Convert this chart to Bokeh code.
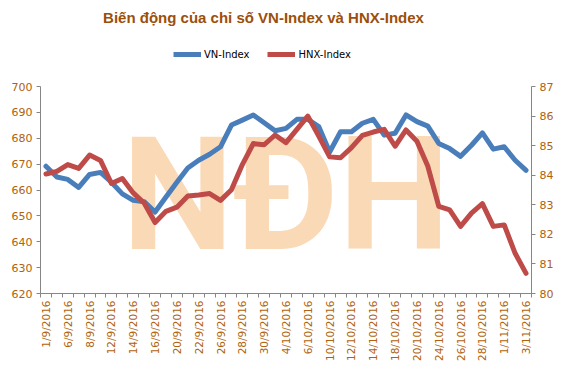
import math
from bokeh.plotting import figure
from bokeh.layouts import column
from bokeh.models import (Range1d, LinearAxis, FixedTicker, Legend, LegendItem,
                          Label, ColumnDataSource)
from bokeh.embed import file_html
from bokeh.resources import INLINE

dates = ["1/9/2016", "5/9/2016", "6/9/2016", "7/9/2016", "8/9/2016", "9/9/2016",
         "12/9/2016", "13/9/2016", "14/9/2016", "15/9/2016", "16/9/2016",
         "19/9/2016", "20/9/2016", "21/9/2016", "22/9/2016", "23/9/2016",
         "26/9/2016", "27/9/2016", "28/9/2016", "29/9/2016", "30/9/2016",
         "3/10/2016", "4/10/2016", "5/10/2016", "6/10/2016", "7/10/2016",
         "10/10/2016", "11/10/2016", "12/10/2016", "13/10/2016", "14/10/2016",
         "17/10/2016", "18/10/2016", "19/10/2016", "20/10/2016", "21/10/2016",
         "24/10/2016", "25/10/2016", "26/10/2016", "27/10/2016", "28/10/2016",
         "31/10/2016", "1/11/2016", "2/11/2016", "3/11/2016"]

vn_index = [669.2, 665.0, 664.1, 661.0, 666.0, 666.8, 663.0, 658.5, 656.0, 655.5,
            651.5, 657.3, 663.0, 668.5, 671.5, 673.8, 676.7, 685.1, 687.0, 689.0,
            686.0, 682.9, 683.8, 687.3, 687.3, 684.5, 674.7, 682.5, 682.5, 685.8,
            687.3, 681.2, 681.9, 689.0, 686.4, 684.7, 678.0, 676.0, 673.0, 677.3,
            682.1, 675.8, 676.7, 671.5, 667.6]

hnx_index = [84.04, 84.13, 84.36, 84.23, 84.68, 84.50, 83.72, 83.89, 83.40, 83.06,
             82.40, 82.78, 82.92, 83.30, 83.33, 83.38, 83.15, 83.51, 84.36, 85.07,
             85.03, 85.36, 85.10, 85.55, 86.00, 85.32, 84.62, 84.59, 84.93, 85.35,
             85.46, 85.55, 84.98, 85.53, 85.15, 84.30, 82.95, 82.83, 82.27, 82.72,
             83.04, 82.27, 82.32, 81.36, 80.68]

title_text = "Biến động của chỉ số VN-Index và HNX-Index"
series_names = ["VN-Index", "HNX-Index"]
watermark = "NĐH"

BLUE = "#4A7EBB"
RED = "#BE4B48"
LABEL_COLOR = "#B0620C"
TITLE_COLOR = "#9C4F0A"
AXIS_COLOR = "#868686"
FONT = "DejaVu Sans"

n = len(dates)
xs = [i + 0.5 for i in range(n)]
src = ColumnDataSource(dict(x=xs, vn=vn_index, hnx=hnx_index))

# ---------- header: title + legend ----------
head = figure(width=559, height=78, output_backend="svg", toolbar_location=None,
              x_range=Range1d(0, 1), y_range=Range1d(0, 1),
              min_border_left=0, min_border_right=0, min_border_top=0,
              min_border_bottom=0)
head.axis.visible = False
head.grid.visible = False
head.outline_line_color = None
# legend proxies: same series, drawn far outside the header's visible range
h_vn = head.line("x", "vn", source=src, line_color=BLUE, line_width=5)
h_hnx = head.line("x", "hnx", source=src, line_color=RED, line_width=5)
head.add_layout(Label(x=223, y=61, x_units="screen", y_units="screen",
                      text=title_text, text_align="center",
                      text_baseline="middle", text_font="Liberation Sans",
                      text_font_style="bold", text_font_size="15px",
                      text_color=TITLE_COLOR))
legend = Legend(items=[LegendItem(label=series_names[0], renderers=[h_vn]),
                       LegendItem(label=series_names[1], renderers=[h_hnx])],
                orientation="horizontal", location=(133, 18),
                label_text_font=FONT, label_text_font_size="10px",
                label_text_color="#000000", glyph_width=28, glyph_height=12,
                label_standoff=3, spacing=18, border_line_color=None,
                background_fill_alpha=0, padding=4, margin=0)
head.add_layout(legend)

# ---------- main chart ----------
p = figure(width=559, height=287, output_backend="svg", toolbar_location=None,
           x_range=Range1d(0, n), y_range=Range1d(620, 700),
           min_border_left=40, min_border_right=28, min_border_bottom=72,
           min_border_top=8)
p.outline_line_color = None
p.grid.visible = False
p.extra_y_ranges = {"hnx": Range1d(80, 87)}

r_vn = p.line("x", "vn", source=src, line_color=BLUE, line_width=5,
              line_join="round", line_cap="round")
r_hnx = p.line("x", "hnx", source=src, y_range_name="hnx", line_color=RED,
               line_width=5, line_join="round", line_cap="round")

wm = Label(x=n / 2, y=658, text=watermark, text_align="center",
           text_baseline="middle", text_font="Roboto",
           text_font_style="bold", text_font_size="158px",
           text_color="#F8C490", text_alpha=0.65, level="underlay")
p.add_layout(wm)

xa = p.xaxis[0]
xa.ticker = FixedTicker(ticks=[xs[i] for i in range(0, n, 2)],
                        minor_ticks=list(range(0, n + 1)))
xa.major_label_overrides = {xs[i]: dates[i] for i in range(0, n, 2)}
xa.major_label_orientation = math.pi / 2
xa.major_tick_out = 0
xa.major_tick_in = 0
xa.minor_tick_out = 4
xa.minor_tick_in = 0
xa.minor_tick_line_color = AXIS_COLOR
xa.axis_line_color = AXIS_COLOR
xa.major_label_text_color = LABEL_COLOR
xa.major_label_text_font = FONT
xa.major_label_text_font_size = "10.5px"
xa.major_label_standoff = 3

ya = p.yaxis[0]
ya.ticker = FixedTicker(ticks=list(range(620, 701, 10)))
ya.minor_tick_line_color = None
ya.major_tick_out = 4
ya.major_tick_in = 0
ya.major_tick_line_color = AXIS_COLOR
ya.axis_line_color = AXIS_COLOR
ya.major_label_text_color = LABEL_COLOR
ya.major_label_text_font = FONT
ya.major_label_text_font_size = "11px"
ya.major_label_standoff = 4

ra = LinearAxis(y_range_name="hnx", ticker=FixedTicker(ticks=list(range(80, 88))))
ra.minor_tick_line_color = None
ra.major_tick_out = 4
ra.major_tick_in = 0
ra.major_tick_line_color = AXIS_COLOR
ra.axis_line_color = AXIS_COLOR
ra.major_label_text_color = LABEL_COLOR
ra.major_label_text_font = FONT
ra.major_label_text_font_size = "11px"
ra.major_label_standoff = 4
p.add_layout(ra, "right")

layout = column(head, p, spacing=0)
open("out.html", "w").write(file_html(layout, INLINE))
